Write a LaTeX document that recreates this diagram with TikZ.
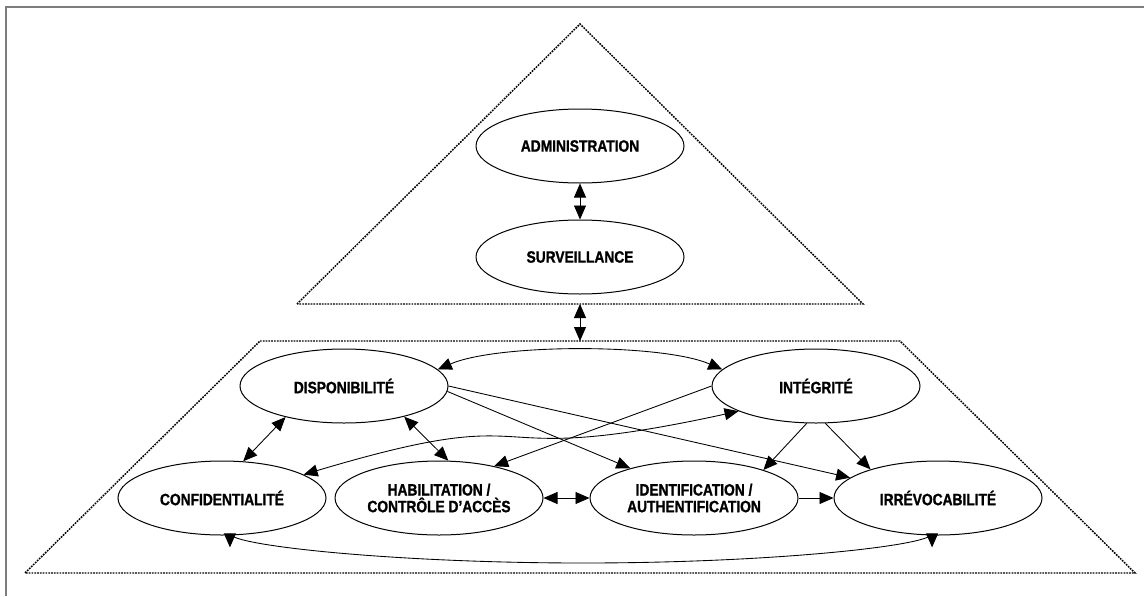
\documentclass[tikz,border=0pt]{standalone}
\usepackage{fontspec}
\newfontfamily\labelfont{Liberation Sans}[FakeStretch=0.84,BoldFeatures={FakeBold=1.2}]
\usetikzlibrary{shapes.geometric,arrows.meta}
\definecolor{framegray}{RGB}{125,125,125}
\begin{document}
\begin{tikzpicture}[x=0.75pt,y=-0.75pt,
  bubble/.style={ellipse,draw,line width=0.75pt,minimum width=156pt,minimum height=55.5pt,
    inner sep=0pt,align=center,font=\labelfont\bfseries\fontsize{12.3}{12.5}\selectfont},
  link/.style={line width=0.65pt,-{Triangle[length=10.5pt,width=9pt]}},
  both/.style={line width=0.65pt,{Triangle[length=10.5pt,width=9pt]}-{Triangle[length=10.5pt,width=9pt]}},
  zone/.style={line width=1.1pt,dash pattern=on 1.3pt off 0.8pt},
  frameline/.style={line width=1.5pt,draw=framegray}]
\useasboundingbox (0,0) rectangle (1144,596);

% page frame
\draw[frameline] (6,596) -- (6,7) -- (1144,7);

% upper triangle and lower trapezoid
\draw[zone] (297,304) -- (580,24) -- (863,304) -- cycle;
\draw[zone] (260,341) -- (900,341) -- (1135,573) -- (25,573) -- cycle;
\coordinate (topbase) at (580,304);
\coordinate (lowtop) at (580,341);

% upper level
\node[bubble] (adm) at (580,146) {ADMINISTRATION};
\node[bubble] (surv) at (580,257) {SURVEILLANCE};

% lower level
\node[bubble] (disp) at (344,386) {DISPONIBILITÉ};
\node[bubble] (integ) at (816,386) {INTÉGRITÉ};
\node[bubble] (conf) at (222,498) {CONFIDENTIALITÉ};
\node[bubble] (habil) at (439,498) {HABILITATION /\\CONTRÔLE D’ACCÈS};
\node[bubble] (ident) at (694,498) {IDENTIFICATION /\\AUTHENTIFICATION};
\node[bubble] (irrev) at (938,498) {IRRÉVOCABILITÉ};

% connectors
\draw[both] (adm.south) -- (surv.north);
\draw[both] (topbase) -- (lowtop);

\draw[both] (disp.10) .. controls +(60,-26) and +(-60,-26) .. (integ.170);
\draw[link] (disp.east) -- (irrev.167);
\draw[link] (disp.-3) -- (ident.155);
\draw[link] (integ.west) -- (habil.30);
\draw[both] (conf.16) .. controls +(258,-77) and +(-279,61) .. (integ.198);
\draw[both] (disp.208) -- (conf.60);
\draw[both] (disp.-27) -- (habil.76);
\draw[both] (habil.east) -- (ident.west);
\draw[link] (ident.east) -- (irrev.west);
\draw[link] (integ.256) -- (ident.22);
\draw[link] (integ.284) -- (irrev.157);
\draw[both] ([yshift=-9pt]conf.-78) .. controls +(0,-2) and +(-190,0) .. (583,563)
  .. controls +(190,0) and +(0,-2) .. ([yshift=-9pt]irrev.-99);
\end{tikzpicture}
\end{document}
